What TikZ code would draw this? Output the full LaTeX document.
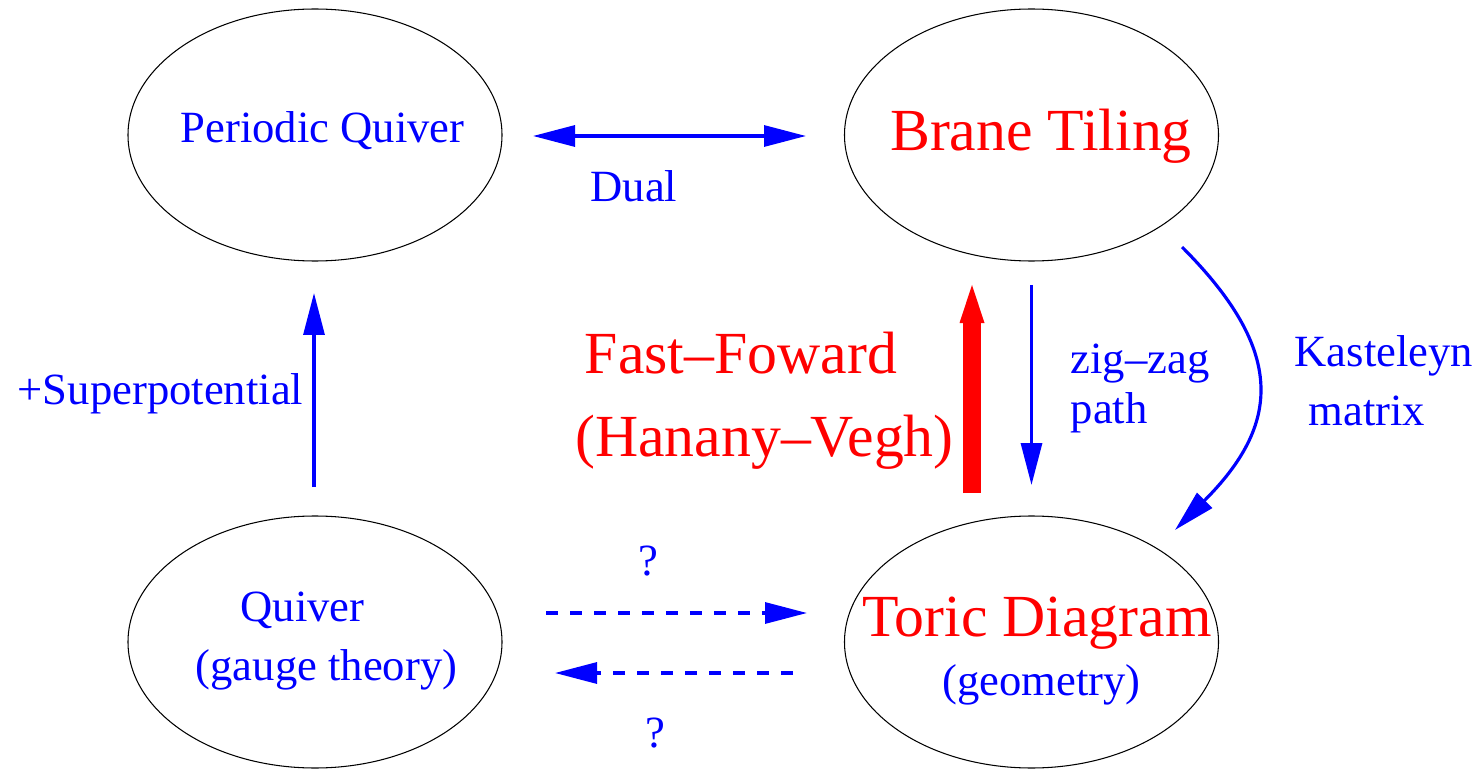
\documentclass[tikz,border=0pt]{standalone}
\usepackage{fontspec}
\setmainfont{Liberation Serif}
\usetikzlibrary{arrows.meta,shapes.geometric}

\begin{document}
\begin{tikzpicture}[
  >={Triangle[length=0.42cm, width=0.21cm]},
  blob/.style={draw=black, ellipse, line width=0.3pt, minimum width=3.74cm, minimum height=2.52cm, inner sep=0pt},
  lab/.style={font=\fontsize{12.7}{15}\selectfont, text=linkB, anchor=base, inner sep=0pt},
  big/.style={font=\fontsize{17}{20}\selectfont, text=linkR, anchor=base, inner sep=0pt},
  link/.style={draw=linkB, line width=0.9pt, ->},
  maybe/.style={link, dash pattern=on 0.12cm off 0.12cm},
  fast/.style={draw=linkR, line width=0.18cm, -{Triangle[length=0.38cm, width=0.25cm, line width=0pt]}}
]
\definecolor{linkB}{RGB}{0,0,255}
\definecolor{linkR}{RGB}{255,0,0}
\useasboundingbox (0,0) rectangle (14.77,7.70);

% the four ellipses
\node[blob] (pq) at (3.15,6.35) {};
\node[blob] (bt) at (10.315,6.35) {};
\node[blob] (qv) at (3.15,1.28) {};
\node[blob] (td) at (10.315,1.28) {};

\node[lab] (pqTxt) at (3.225,6.27) {Periodic Quiver};
\node[big] (btTxt) at (10.41,6.20) {Brane Tiling};
\node[lab] (qvTxt) at (3.025,1.49) {Quiver};
\node[lab] (qvSub) at (3.265,0.90) {(gauge theory)};
\node[big] (tdTxt) at (10.37,1.34) {Toric Diagram};
\node[lab] (tdSub) at (10.415,0.75) {(geometry)};

% labels on the arrows
\node[lab] (dual) at (6.34,5.68) {Dual};
\node[lab, anchor=base west] (sup) at (0.17,3.66) {+Superpotential};
\node[big] (ff) at (7.41,3.96) {Fast--Foward};
\node[big] (hv) at (7.645,3.13) {(Hanany--Vegh)};
\node[lab, anchor=base west] (zz) at (10.70,3.97) {zig--zag};
\node[lab, anchor=base west] (zzPath) at (10.70,3.47) {path};
\node[lab, anchor=base west] (kas) at (12.94,4.03) {Kasteleyn};
\node[lab, anchor=base west] (kasMat) at (13.08,3.45) {matrix};
\node[lab] (qUp) at (6.48,1.95) {?};
\node[lab] (qDn) at (6.55,0.23) {?};

% arrow ends
\coordinate (dualL) at (5.33,6.34);
\coordinate (dualR) at (8.06,6.34);
\coordinate (supS) at (3.14,2.83);
\coordinate (supE) at (3.14,4.77);
\coordinate (ffS) at (9.72,2.77);
\coordinate (ffE) at (9.72,4.85);
\coordinate (zzS) at (10.315,4.85);
\coordinate (zzE) at (10.315,2.85);
\coordinate (kasS) at (11.82,5.23);
\coordinate (kasE) at (11.75,2.40);
\coordinate (toS) at (5.46,1.57);
\coordinate (toE) at (8.07,1.57);
\coordinate (backS) at (7.93,0.97);
\coordinate (backE) at (5.55,0.97);

\draw[link, <->] (dualL) -- (dualR);
\draw[link] (supS) -- (supE);
\draw[fast] (ffS) -- (ffE);
\draw[link] (zzS) -- (zzE);
\draw[link] (kasS) .. controls (12.87,4.18) and (12.80,3.45) .. (kasE);
\draw[maybe] (toS) -- (toE);
\draw[maybe] (backS) -- (backE);
\end{tikzpicture}
\end{document}
